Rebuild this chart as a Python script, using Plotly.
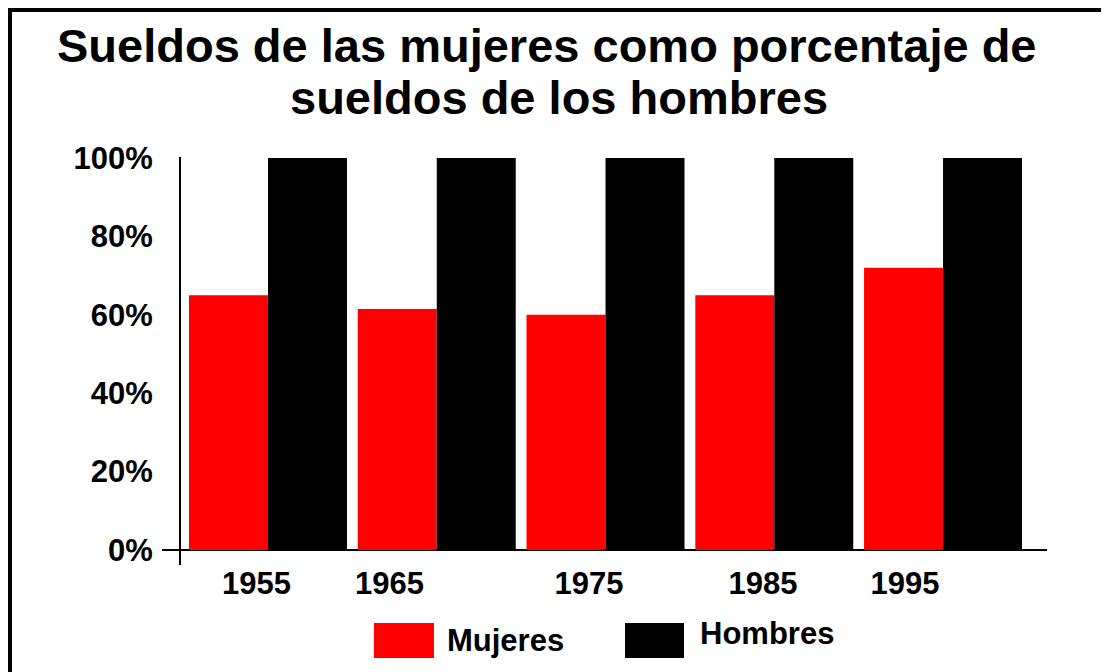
import plotly.graph_objects as go

# ---- data ----
years = ["1955", "1965", "1975", "1985", "1995"]
mujeres = [65, 61.5, 60, 65, 72]
hombres = [100, 100, 100, 100, 100]
y_ticks = [0, 20, 40, 60, 80, 100]
y_tick_labels = ["0%", "20%", "40%", "60%", "80%", "100%"]
title_lines = ["Sueldos de las mujeres como porcentaje de", "sueldos de los hombres"]
series_names = ["Mujeres", "Hombres"]

# ---- layout constants (page pixels; the page has an 8px body margin) ----
OFF = 8
W, H = 1109 - OFF, 672 - OFF
L, R, T, B = 162 - OFF, 1047 - OFF, 157 - OFF, 565 - OFF
FONT = "Liberation Sans, Arial, sans-serif"
label_offsets = [-0.068, -0.28, -0.098, -0.067, -0.225]


def px_x(p):
    return (p - OFF - L) / (R - L)


def px_y(p):
    return (B - (p - OFF)) / (B - T)


idx = list(range(len(years)))

fig = go.Figure()
fig.add_trace(go.Bar(x=idx, y=mujeres, name=series_names[0],
                     marker=dict(color="#FF0000", line=dict(width=0))))
fig.add_trace(go.Bar(x=idx, y=hombres, name=series_names[1],
                     marker=dict(color="#000000", line=dict(width=0))))

tickpos = [i + o for i, o in zip(idx, label_offsets)]

fig.update_layout(
    width=W, height=H,
    margin=dict(l=L, r=W - R, t=T, b=H - B, pad=0),
    paper_bgcolor="white", plot_bgcolor="white",
    barmode="group", bargap=0.064, bargroupgap=0,
    showlegend=False,
    font=dict(family=FONT, color="black", size=31),
    xaxis=dict(range=[-0.628, 4.616], tickmode="array", tickvals=tickpos,
               ticktext=years, showgrid=False, zeroline=False, showline=False,
               ticks="", ticklabelstandoff=-3,
               tickfont=dict(size=31, family=FONT, weight="bold")),
    yaxis=dict(range=[-3.83, 100.26], tickmode="array", tickvals=y_ticks,
               ticktext=y_tick_labels, showgrid=False, zeroline=True,
               zerolinecolor="black", zerolinewidth=2, showline=True,
               linecolor="black", linewidth=2, ticks="",
               anchor="free", position=px_x(180), ticklabelstandoff=20,
               tickfont=dict(size=31, family=FONT, weight="bold")),
)

# title as two separate lines
fig.add_annotation(text=f"<b>{title_lines[0]}</b>", xref="paper", yref="paper",
                   x=px_x(547), y=px_y(45), xanchor="center", yanchor="middle",
                   showarrow=False, font=dict(size=47, family=FONT, color="black"))
fig.add_annotation(text=f"<b>{title_lines[1]}</b>", xref="paper", yref="paper",
                   x=px_x(559), y=px_y(97), xanchor="center", yanchor="middle",
                   showarrow=False, font=dict(size=47, family=FONT, color="black"))

# custom legend
fig.add_shape(type="rect", xref="paper", yref="paper",
              x0=px_x(374), x1=px_x(434), y0=px_y(658), y1=px_y(623),
              fillcolor="#FF0000", line=dict(width=0))
fig.add_shape(type="rect", xref="paper", yref="paper",
              x0=px_x(625), x1=px_x(684), y0=px_y(658), y1=px_y(623),
              fillcolor="#000000", line=dict(width=0))
fig.add_annotation(text=f"<b>{series_names[0]}</b>", xref="paper", yref="paper",
                   x=px_x(445), y=px_y(640), xanchor="left", yanchor="middle",
                   showarrow=False, font=dict(size=31, family=FONT, color="black"))
fig.add_annotation(text=f"<b>{series_names[1]}</b>", xref="paper", yref="paper",
                   x=px_x(698), y=px_y(633), xanchor="left", yanchor="middle",
                   showarrow=False, font=dict(size=31, family=FONT, color="black"))

# outer frame: only top and left edges
fig.add_shape(type="line", xref="paper", yref="paper",
              x0=px_x(7), x1=px_x(1109), y0=px_y(9.5), y1=px_y(9.5),
              line=dict(color="black", width=5))
fig.add_shape(type="line", xref="paper", yref="paper",
              x0=px_x(9.5), x1=px_x(9.5), y0=px_y(7), y1=px_y(672),
              line=dict(color="black", width=5))

fig.write_html("out.html")
